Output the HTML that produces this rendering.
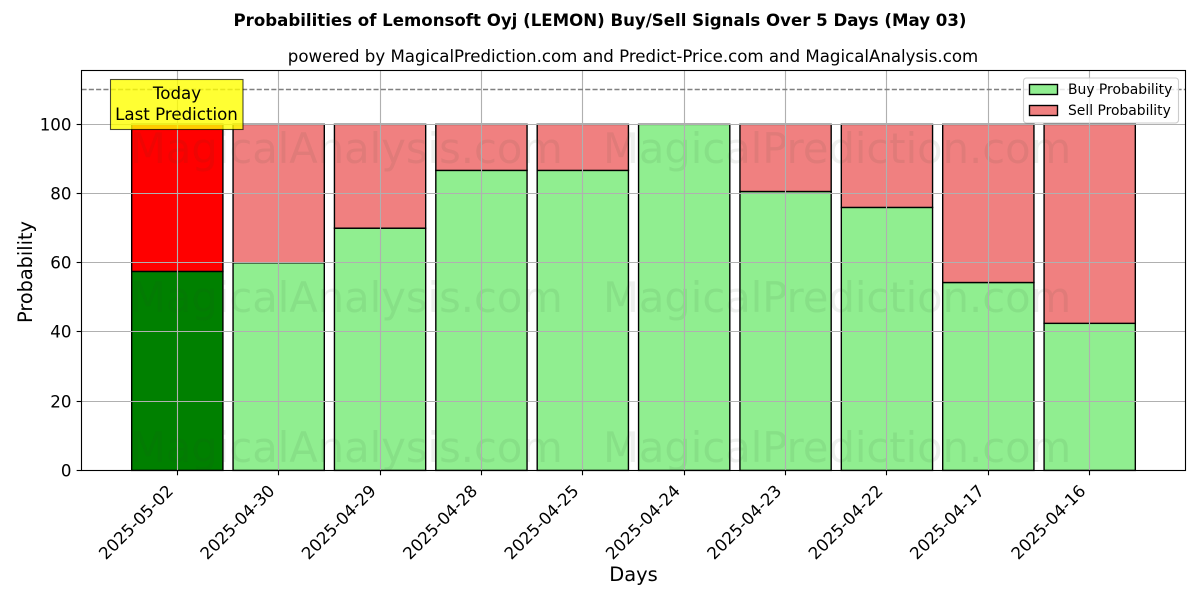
<!DOCTYPE html>
<html>
<head>
<meta charset="utf-8">
<title>Lemonsoft Oyj Buy/Sell Signals</title>
<style>
html,body{margin:0;padding:0;background:#fff;}
svg{display:block;font-family:"DejaVu Sans","Liberation Sans",sans-serif;}
</style>
</head>
<body>
<svg id="chart" xmlns="http://www.w3.org/2000/svg" width="1200" height="600" viewBox="0 0 1200 600">
  <text x="600" y="26" text-anchor="middle" font-size="16.6" font-weight="bold" fill="#000">Probabilities of Lemonsoft Oyj (LEMON) Buy/Sell Signals Over 5 Days (May 03)</text>
  <text x="633" y="62" text-anchor="middle" font-size="16.62" fill="#000">powered by MagicalPrediction.com and Predict-Price.com and MagicalAnalysis.com</text>
  <g id="bars"></g>
  <g id="watermarks" font-size="41.62" fill="#204020" fill-opacity="0.08">
    <text x="130" y="163">MagicalAnalysis.com</text>
    <text x="603" y="163">MagicalPrediction.com</text>
    <text x="130" y="312">MagicalAnalysis.com</text>
    <text x="603" y="312">MagicalPrediction.com</text>
    <text x="130" y="462">MagicalAnalysis.com</text>
    <text x="603" y="462">MagicalPrediction.com</text>
  </g>
  <g id="grid"></g>
  <line id="refline" stroke="#808080" stroke-width="1.39" stroke-dasharray="5.1 2.2"></line>
  <g id="axes"></g>
  <rect x="81.5" y="70.5" width="1104" height="400" fill="none" stroke="#000" stroke-width="1.11"></rect>
  <text x="633.5" y="581" text-anchor="middle" font-size="19.44" fill="#000">Days</text>
  <text transform="translate(32,272) rotate(-90)" text-anchor="middle" font-size="19.3" fill="#000">Probability</text>
  <g>
    <rect x="110.5" y="79.5" width="132.5" height="50" fill="#ffff00" fill-opacity="0.8" stroke="#000" stroke-opacity="0.7" stroke-width="1.1"></rect>
    <text x="177" y="99" text-anchor="middle" font-size="16.67" fill="#000">Today</text>
    <text x="176.5" y="120" text-anchor="middle" font-size="16.67" fill="#000">Last Prediction</text>
  </g>
  <g>
    <rect x="1023.5" y="78" width="155" height="45" rx="3" fill="#fff" fill-opacity="0.8" stroke="#ccc" stroke-width="1.1"></rect>
    <rect x="1029.5" y="84.5" width="28" height="10" fill="#90ee90" stroke="#000" stroke-width="1.39"></rect>
    <text x="1068" y="94" font-size="13.89" fill="#000">Buy Probability</text>
    <rect x="1029.5" y="105.5" width="28" height="10" fill="#f08080" stroke="#000" stroke-width="1.39"></rect>
    <text x="1068" y="115" font-size="13.89" fill="#000">Sell Probability</text>
  </g>
</svg>
<script>
const categories = ["2025-05-02","2025-04-30","2025-04-29","2025-04-28","2025-04-25","2025-04-24","2025-04-23","2025-04-22","2025-04-17","2025-04-16"];
const buyValues = [57.5,60,70,86.7,86.7,100,80.6,76,54.3,42.5];
const sellValues = [42.5,40,30,13.3,13.3,0,19.4,24,45.7,57.5];
const yTicks = [0,20,40,60,80,100];
const referenceLevel = 110;

const NS = 'http://www.w3.org/2000/svg';
const plotLeft = 81.5, plotWidth = 1104, plotTop = 70.4, plotBottom = 470.4;
const xMin = -0.945, xMax = 9.945, yMax = 115.6, barWidth = 0.9;
function xScale(i){ return plotLeft + (i - xMin) / (xMax - xMin) * plotWidth; }
function yScale(v){ return plotBottom - v / yMax * (plotBottom - plotTop); }
function snap(p){ return Math.round(p - 0.5) + 0.5; }
function make(tag, attrs, parent){
  const el = document.createElementNS(NS, tag);
  for (const k in attrs) el.setAttribute(k, attrs[k]);
  parent.appendChild(el);
  return el;
}
const barsG = document.getElementById('bars');
const gridG = document.getElementById('grid');
const axesG = document.getElementById('axes');

categories.forEach(function(cat, i){
  const w = barWidth * plotWidth / (xMax - xMin);
  const left = xScale(i) - w / 2;
  const buyTop = yScale(buyValues[i]);
  const sellTop = yScale(buyValues[i] + sellValues[i]);
  const buy = make('rect', {x:left, y:buyTop, width:w, height:yScale(0)-buyTop, fill:i===0?'#008000':'#90ee90', stroke:'#000', 'stroke-width':1.39}, barsG);
  
  
  if (sellValues[i] > 0) {
    const sell = make('rect', {x:left, y:sellTop, width:w, height:buyTop-sellTop, fill:i===0?'#ff0000':'#f08080', stroke:'#000', 'stroke-width':1.39}, barsG);
    
    
  }
  const px = snap(xScale(i));
  const gl = make('line', {x1:px, x2:px, y1:plotTop, y2:plotBottom, stroke:'#b0b0b0', 'stroke-width':1.11}, gridG);
  
  
  const tick = make('line', {x1:px, x2:px, y1:plotBottom, y2:plotBottom+4.86, stroke:'#000', 'stroke-width':1.11}, axesG);
  
  
  const lx = xScale(i) - 3, ly = 492;
  const label = make('text', {x:lx, y:ly, 'text-anchor':'end', 'font-size':16.67, fill:'#000', transform:'rotate(-45 '+lx+' '+ly+')'}, axesG);
  
  
  label.textContent = cat;
});

yTicks.forEach(function(v){
  const py = snap(yScale(v));
  const gl = make('line', {x1:plotLeft, x2:plotLeft+plotWidth, y1:py, y2:py, stroke:'#b0b0b0', 'stroke-width':1.11}, gridG);
  
  
  const tick = make('line', {x1:plotLeft-4.86, x2:plotLeft, y1:py, y2:py, stroke:'#000', 'stroke-width':1.11}, axesG);
  
  
  const label = make('text', {x:plotLeft-10, y:py+6, 'text-anchor':'end', 'font-size':16.67, fill:'#000'}, axesG);
  
  
  label.textContent = String(v);
});

const ref = document.getElementById('refline');
const refY = snap(yScale(referenceLevel));
ref.setAttribute('x1', plotLeft);
ref.setAttribute('x2', plotLeft + plotWidth);
ref.setAttribute('y1', refY);
ref.setAttribute('y2', refY);
</script>
</body>
</html>
